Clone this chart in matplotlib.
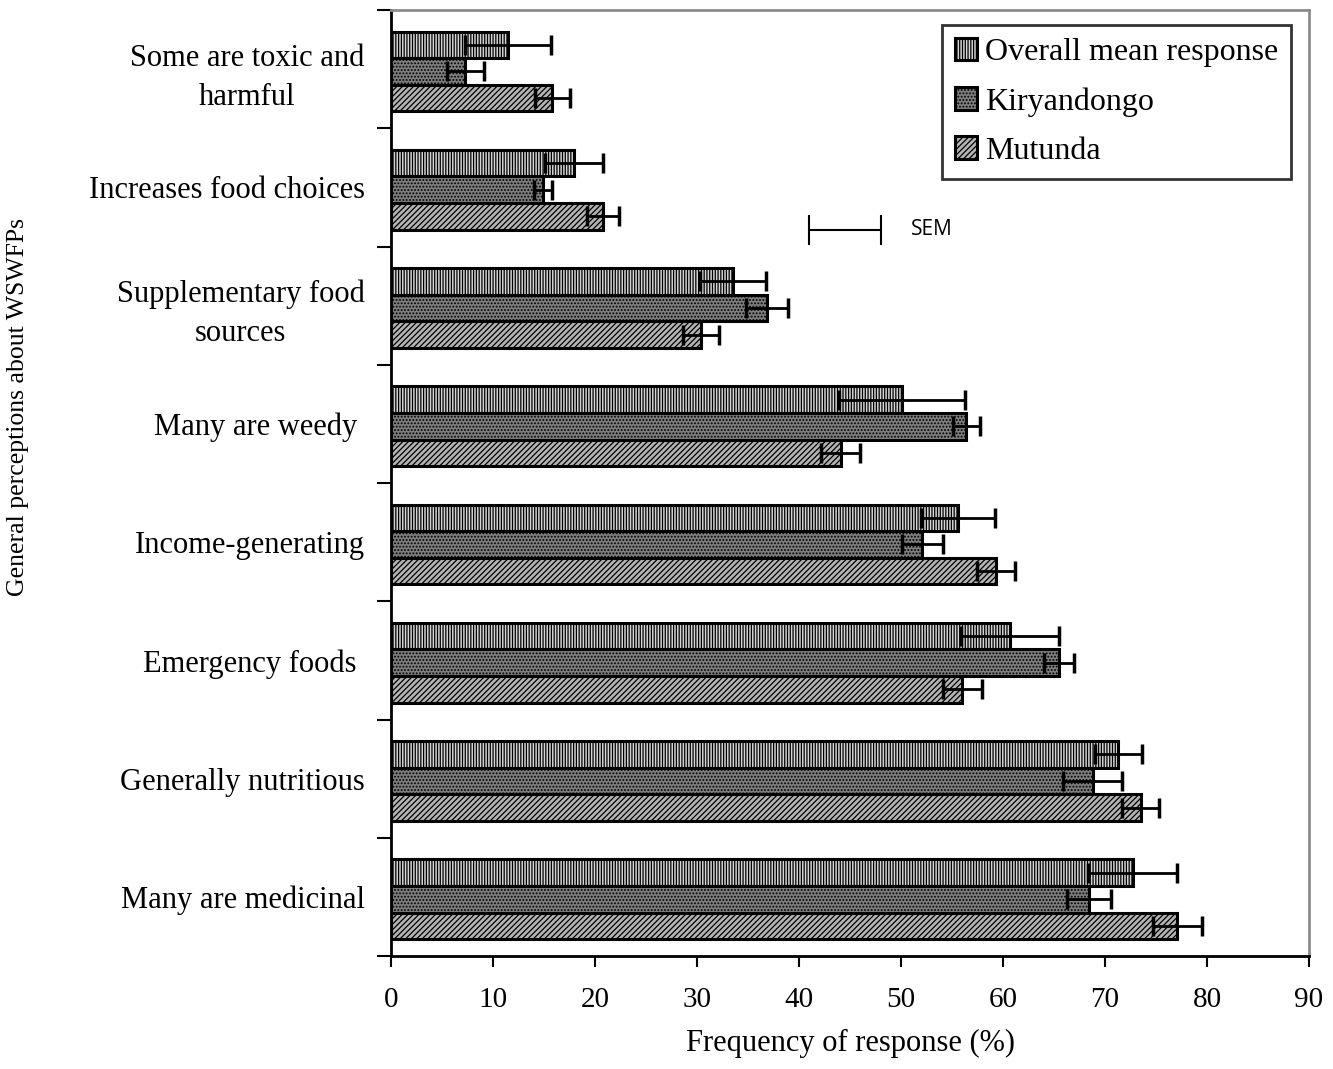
import matplotlib
matplotlib.use("Agg")
import matplotlib.pyplot as plt
import numpy as np

categories = ["Many are medicinal", "Generally nutritious", "Emergency foods ",
              "Income-generating", "Many are weedy ", "Supplementary food\nsources",
              "Increases food choices", "Some are toxic and\nharmful"]
overall = [72.7, 71.3, 60.7, 55.6, 50.1, 33.5, 17.9, 11.5]
overall_err = [4.4, 2.3, 4.8, 3.6, 6.2, 3.25, 2.85, 4.2]
kiry = [68.4, 68.8, 65.5, 52.1, 56.4, 36.9, 14.9, 7.3]
kiry_err = [2.15, 2.9, 1.45, 2.0, 1.3, 2.05, 0.85, 1.8]
mutunda = [77.1, 73.5, 56.0, 59.3, 44.1, 30.4, 20.8, 15.8]
mutunda_err = [2.4, 1.8, 1.9, 1.85, 1.9, 1.75, 1.55, 1.7]
series_names = ["Overall mean response", "Kiryandongo", "Mutunda"]
xticks = [0, 10, 20, 30, 40, 50, 60, 70, 80, 90]

plt.rcParams['hatch.linewidth'] = 0.9
serif = ['Liberation Serif', 'DejaVu Serif']

fig = plt.figure(figsize=(13.33, 10.69), dpi=100)
ax = fig.add_axes([391/1333, 113/1069, (1309-391)/1333, (957-11)/1069])

y = np.arange(len(categories))
h = 0.225
off = -0.02
styles = [
    dict(facecolor='#d4d4d4', hatch='||||||'),
    dict(facecolor='#7e7e7e', hatch='.....'),
    dict(facecolor='#b4b4b4', hatch='//////'),
]
data = [(overall, overall_err), (kiry, kiry_err), (mutunda, mutunda_err)]
offsets = [h, 0, -h]
handles = []
for (vals, errs), st, o, name in zip(data, styles, offsets, series_names):
    b = ax.barh(y + o + off, vals, height=h, edgecolor='black', linewidth=2.2,
                label=name, **st)
    handles.append(b)
    ax.errorbar(vals, y + o + off, xerr=errs, fmt='none', ecolor='black',
                elinewidth=2, capsize=7, capthick=2.5)

ax.set_xlim(0, 90)
ax.set_ylim(-0.5, len(categories) - 0.5)
ax.set_xticks(xticks)
ax.set_xticklabels([str(t) for t in xticks], fontsize=21, family=serif)
ax.set_yticks(np.arange(len(categories) + 1) - 0.5)
ax.set_yticklabels([])
ax.set_yticks(y, minor=True)
ax.set_yticklabels(categories, minor=True, fontsize=22, family=serif,
                   multialignment='center', linespacing=1.45)
ax.tick_params(axis='y', which='minor', length=0, pad=19)
ax.tick_params(axis='y', which='major', length=10, width=1.5, direction='out')
ax.tick_params(axis='x', which='major', length=8, width=1.5, direction='out', pad=14)

for s in ['left', 'bottom']:
    ax.spines[s].set_color('black')
    ax.spines[s].set_linewidth(2)
for s in ['top', 'right']:
    ax.spines[s].set_color('#8c8c8c')
    ax.spines[s].set_linewidth(2)

ax.set_xlabel("Frequency of response (%)", fontsize=22, family=serif, labelpad=12)
fig.text(18/1333, 1 - 407/1069, "General perceptions about WSWFPs", rotation=90,
         fontsize=18.5, family=serif, ha='center', va='center')

# SEM key
ax.errorbar([44.5], [5.64], xerr=[3.5], fmt='none', ecolor='black',
            elinewidth=1.5, capsize=11, capthick=1.5)
ax.text(51.0, 5.64, "SEM", fontsize=15, family=['Open Sans', 'DejaVu Sans'],
        va='center', ha='left')

leg = ax.legend(handles=handles, loc='upper right', bbox_to_anchor=(0.9805, 0.984),
                prop={'family': serif, 'size': 23}, frameon=True, fancybox=False,
                edgecolor='black', handlelength=0.7, handleheight=0.7,
                handletextpad=0.25, labelspacing=0.62, borderpad=0.4,
                borderaxespad=0)
leg.get_frame().set_linewidth(2)

fig.savefig("out.png", dpi=100)
